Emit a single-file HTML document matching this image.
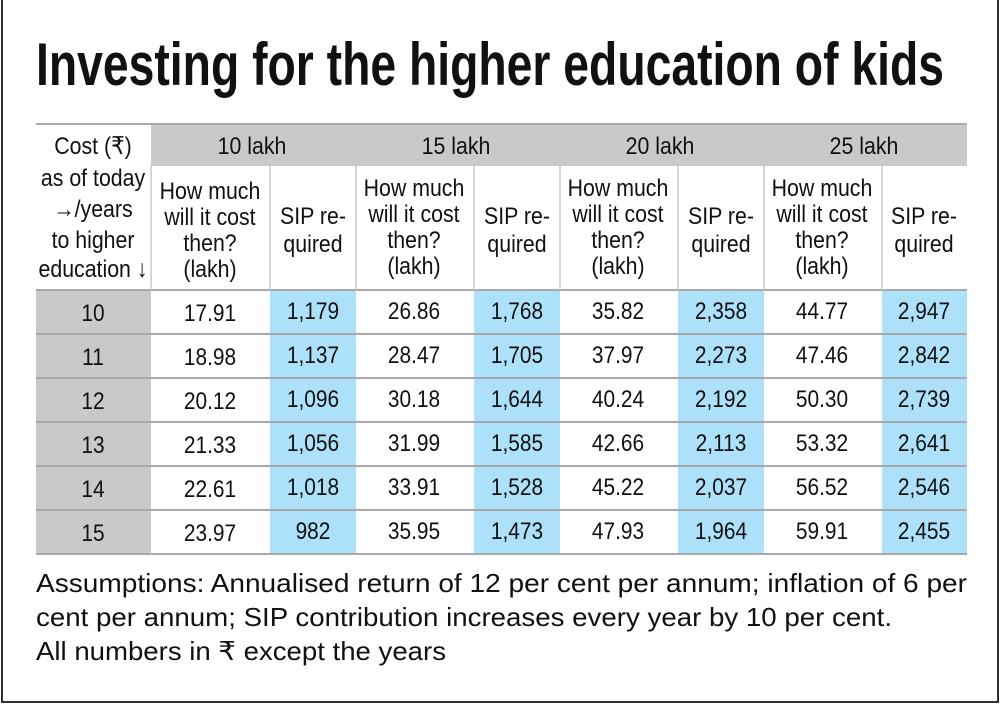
<!DOCTYPE html>
<html><head><meta charset="utf-8"><style>
html,body{margin:0;padding:0;background:#fff}
svg{display:block}
text{font-family:"Liberation Sans Narrow","Liberation Sans",sans-serif;fill:#111}
.c text{transform-box:fill-box;transform-origin:center;transform:scaleX(.87)}
</style></head><body>
<svg width="1000" height="705" viewBox="0 0 1000 705">
<rect x="2" y="-5" width="996" height="707" fill="#fff" stroke="#333" stroke-width="2"/>
<text x="36" y="85" font-size="60" font-weight="bold" textLength="908" lengthAdjust="spacingAndGlyphs">Investing for the higher education of kids</text>
<rect x="151" y="124" width="816" height="42" fill="#c9c9cb"/>
<rect x="36" y="290" width="115" height="264" fill="#c9c9cb"/>
<g fill="#ade0f9">
<rect x="270" y="290" width="86" height="264"/>
<rect x="474" y="290" width="86" height="264"/>
<rect x="678" y="290" width="86" height="264"/>
<rect x="882" y="290" width="85" height="264"/>
</g>
<g stroke="#a9a9ab" stroke-width="2">
<line x1="36" y1="124" x2="967" y2="124"/>
<line x1="36" y1="290" x2="967" y2="290"/>
<line x1="36" y1="334" x2="967" y2="334"/>
<line x1="36" y1="378" x2="967" y2="378"/>
<line x1="36" y1="422" x2="967" y2="422"/>
<line x1="36" y1="466" x2="967" y2="466"/>
<line x1="36" y1="510" x2="967" y2="510"/>
<line x1="36" y1="554" x2="967" y2="554"/>
</g>
<g stroke="#c9c9cb" stroke-width="1.5">
<line x1="151" y1="166" x2="151" y2="290"/>
<line x1="270" y1="166" x2="270" y2="290"/>
<line x1="356" y1="166" x2="356" y2="290"/>
<line x1="474" y1="166" x2="474" y2="290"/>
<line x1="560" y1="166" x2="560" y2="290"/>
<line x1="678" y1="166" x2="678" y2="290"/>
<line x1="764" y1="166" x2="764" y2="290"/>
<line x1="882" y1="166" x2="882" y2="290"/>
</g>
<g class="c" font-size="24.5" text-anchor="middle">
<text x="93" y="154">Cost (₹)</text>
<text x="93" y="186">as of today</text>
<text x="93" y="217">→/years</text>
<text x="93" y="248">to higher</text>
<text x="93" y="277">education ↓</text>
<text x="252" y="154">10 lakh</text>
<text x="456" y="154">15 lakh</text>
<text x="660" y="154">20 lakh</text>
<text x="864" y="154">25 lakh</text>
</g>
<g class="c" font-size="24.5" text-anchor="middle">
<text x="210" y="199">How much</text><text x="210" y="225">will it cost</text><text x="210" y="251">then?</text><text x="210" y="277">(lakh)</text>
<text x="313" y="224">SIP re-</text><text x="313" y="252">quired</text>
<text x="414" y="196">How much</text><text x="414" y="222">will it cost</text><text x="414" y="248">then?</text><text x="414" y="274">(lakh)</text>
<text x="517" y="224">SIP re-</text><text x="517" y="252">quired</text>
<text x="618" y="196">How much</text><text x="618" y="222">will it cost</text><text x="618" y="248">then?</text><text x="618" y="274">(lakh)</text>
<text x="721" y="224">SIP re-</text><text x="721" y="252">quired</text>
<text x="822" y="196">How much</text><text x="822" y="222">will it cost</text><text x="822" y="248">then?</text><text x="822" y="274">(lakh)</text>
<text x="924" y="224">SIP re-</text><text x="924" y="252">quired</text>
</g>
<g class="c" font-size="24" text-anchor="middle">
<text x="93" y="321">10</text><text x="93" y="365">11</text><text x="93" y="409">12</text><text x="93" y="453">13</text><text x="93" y="497">14</text><text x="93" y="541">15</text>
<text x="210" y="321">17.91</text><text x="313" y="319">1,179</text><text x="414" y="319">26.86</text><text x="517" y="319">1,768</text><text x="618" y="319">35.82</text><text x="721" y="319">2,358</text><text x="822" y="319">44.77</text><text x="924" y="319">2,947</text>
<text x="210" y="365">18.98</text><text x="313" y="363">1,137</text><text x="414" y="363">28.47</text><text x="517" y="363">1,705</text><text x="618" y="363">37.97</text><text x="721" y="363">2,273</text><text x="822" y="363">47.46</text><text x="924" y="363">2,842</text>
<text x="210" y="409">20.12</text><text x="313" y="407">1,096</text><text x="414" y="407">30.18</text><text x="517" y="407">1,644</text><text x="618" y="407">40.24</text><text x="721" y="407">2,192</text><text x="822" y="407">50.30</text><text x="924" y="407">2,739</text>
<text x="210" y="453">21.33</text><text x="313" y="451">1,056</text><text x="414" y="451">31.99</text><text x="517" y="451">1,585</text><text x="618" y="451">42.66</text><text x="721" y="451">2,113</text><text x="822" y="451">53.32</text><text x="924" y="451">2,641</text>
<text x="210" y="497">22.61</text><text x="313" y="495">1,018</text><text x="414" y="495">33.91</text><text x="517" y="495">1,528</text><text x="618" y="495">45.22</text><text x="721" y="495">2,037</text><text x="822" y="495">56.52</text><text x="924" y="495">2,546</text>
<text x="210" y="541">23.97</text><text x="313" y="539">982</text><text x="414" y="539">35.95</text><text x="517" y="539">1,473</text><text x="618" y="539">47.93</text><text x="721" y="539">1,964</text><text x="822" y="539">59.91</text><text x="924" y="539">2,455</text>
</g>
<g font-size="26">
<text x="36" y="592" textLength="931" lengthAdjust="spacingAndGlyphs">Assumptions: Annualised return of 12 per cent per annum; inflation of 6 per</text>
<text x="36" y="626" textLength="856" lengthAdjust="spacingAndGlyphs">cent per annum; SIP contribution increases every year by 10 per cent.</text>
<text x="36" y="660" textLength="410" lengthAdjust="spacingAndGlyphs">All numbers in ₹ except the years</text>
</g>
</svg>
</body></html>
